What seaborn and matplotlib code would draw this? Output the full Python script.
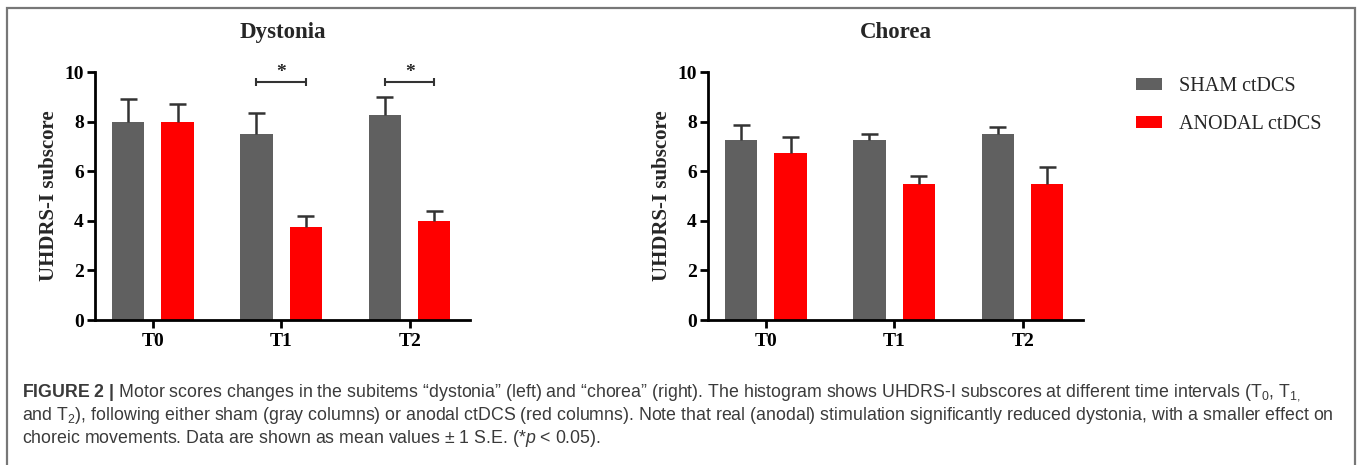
import matplotlib.pyplot as plt
import seaborn as sns
import pandas as pd
from matplotlib.patches import Patch, Rectangle

# data (mean and +1 S.E.)
times = ['T0', 'T1', 'T2']
groups = ['SHAM ctDCS', 'ANODAL ctDCS']

dystonia_sham = [8.0, 7.5, 8.25]
dystonia_sham_se = [0.9, 0.85, 0.75]
dystonia_anodal = [8.0, 3.75, 4.0]
dystonia_anodal_se = [0.7, 0.45, 0.4]

chorea_sham = [7.25, 7.25, 7.5]
chorea_sham_se = [0.62, 0.25, 0.3]
chorea_anodal = [6.75, 5.5, 5.5]
chorea_anodal_se = [0.63, 0.3, 0.65]

dystonia_signif = ['T1', 'T2']

caption_lines = [
    r'$\mathbf{FIGURE\ 2\ |}$ Motor scores changes in the subitems “dystonia” (left) and “chorea” (right). '
    r'The histogram shows UHDRS-I subscores at different time intervals (T$_0$, T$_{1,}$',
    r'and T$_2$), following either sham (gray columns) or anodal ctDCS (red columns). '
    r'Note that real (anodal) stimulation significantly reduced dystonia, with a smaller effect on',
    r'choreic movements. Data are shown as mean values ± 1 S.E. (*$p$ < 0.05).',
]

sns.set_style('ticks')
plt.rcParams['font.family'] = ['Liberation Serif', 'DejaVu Serif']
plt.rcParams['mathtext.fontset'] = 'custom'
plt.rcParams['mathtext.rm'] = 'Liberation Sans'
plt.rcParams['mathtext.it'] = 'Liberation Sans:italic'
plt.rcParams['mathtext.bf'] = 'Liberation Sans:bold'

colors = {'SHAM ctDCS': '#606060', 'ANODAL ctDCS': '#ff0000'}
W, H = 1358, 465


def panel_frame(sham, sham_se, anodal, anodal_se):
    return pd.DataFrame({
        'time': times * 2,
        'group': [groups[0]] * 3 + [groups[1]] * 3,
        'score': sham + anodal,
        'se': sham_se + anodal_se,
    })


def draw_panel(ax, df, title, signif=()):
    sns.barplot(data=df, x='time', y='score', hue='group', order=times,
                hue_order=groups, palette=colors, saturation=1, width=0.77, gap=0.35,
                errorbar=None, legend=False, edgecolor='none', ax=ax)
    bars = ax.patches
    xs = [b.get_x() + b.get_width() / 2 for b in bars]
    ys = [b.get_height() for b in bars]
    tops = [y + e for y, e in zip(ys, df['se'])]
    # upper-only error bars with caps
    ax.vlines(xs, ys, tops, color='#333333', lw=1.8)
    ax.hlines(tops, [x - 0.066 for x in xs], [x + 0.066 for x in xs], color='#333333', lw=1.8)

    for t in signif:
        i = times.index(t)
        x1, x2 = xs[i], xs[i + 3]
        y = 9.6
        ax.plot([x1, x2], [y, y], color='#333333', lw=1.5, clip_on=False)
        ax.vlines([x1, x2], y - 0.17, y + 0.17, color='#333333', lw=1.5, clip_on=False)
        ax.text((x1 + x2) / 2, y + 0.05, '*', ha='center', va='bottom',
                fontsize=14, fontweight='bold', clip_on=False)

    ax.set_xlim(-0.45, 2.47)
    ax.set_ylim(0, 10)
    ax.set_yticks(range(0, 11, 2))
    ax.set_xlabel('')
    ax.set_ylabel('UHDRS-I subscore', fontsize=15, fontweight='bold')
    ax.yaxis.set_label_coords(-0.097, 0.5)
    ax.text(0.5, 1.161, title, transform=ax.transAxes, ha='center', va='center',
            fontsize=16.5, fontweight='bold')
    sns.despine(ax=ax)
    for s in ['left', 'bottom']:
        ax.spines[s].set_linewidth(2)
        ax.spines[s].set_color('black')
    ax.tick_params(length=6, width=2, labelsize=14, colors='black')
    ax.tick_params(axis='y', pad=2)
    for lbl in ax.get_xticklabels() + ax.get_yticklabels():
        lbl.set_fontweight('bold')


fig = plt.figure(figsize=(W / 100, H / 100), dpi=100)
ax1 = fig.add_axes([95 / W, 1 - 320 / H, 375 / W, 248 / H])
ax2 = fig.add_axes([708 / W, 1 - 320 / H, 375 / W, 248 / H])

draw_panel(ax1, panel_frame(dystonia_sham, dystonia_sham_se, dystonia_anodal, dystonia_anodal_se),
           'Dystonia', dystonia_signif)
draw_panel(ax2, panel_frame(chorea_sham, chorea_sham_se, chorea_anodal, chorea_anodal_se),
           'Chorea')

handles = [Patch(facecolor=colors[g], edgecolor='none', label=g) for g in groups]
fig.legend(handles=handles, loc='upper left', bbox_to_anchor=(1136 / W, 1 - 77 / H),
           frameon=False, fontsize=14.5, handlelength=1.3, handleheight=0.55,
           handletextpad=0.85, labelspacing=0.95, borderpad=0, borderaxespad=0)

fig.add_artist(Rectangle((7 / W, -0.05), (1355 - 7) / W, 1.05 - 8 / H,
                         transform=fig.transFigure, fill=False,
                         edgecolor='#777777', linewidth=1.6))

for k, line in enumerate(caption_lines):
    fig.text(22 / W, 1 - (393 + 22.5 * k) / H, line, ha='left', va='center',
             fontsize=12.75, color='#3a3a3a', family='Liberation Sans')

fig.savefig('out.png', dpi=100)
